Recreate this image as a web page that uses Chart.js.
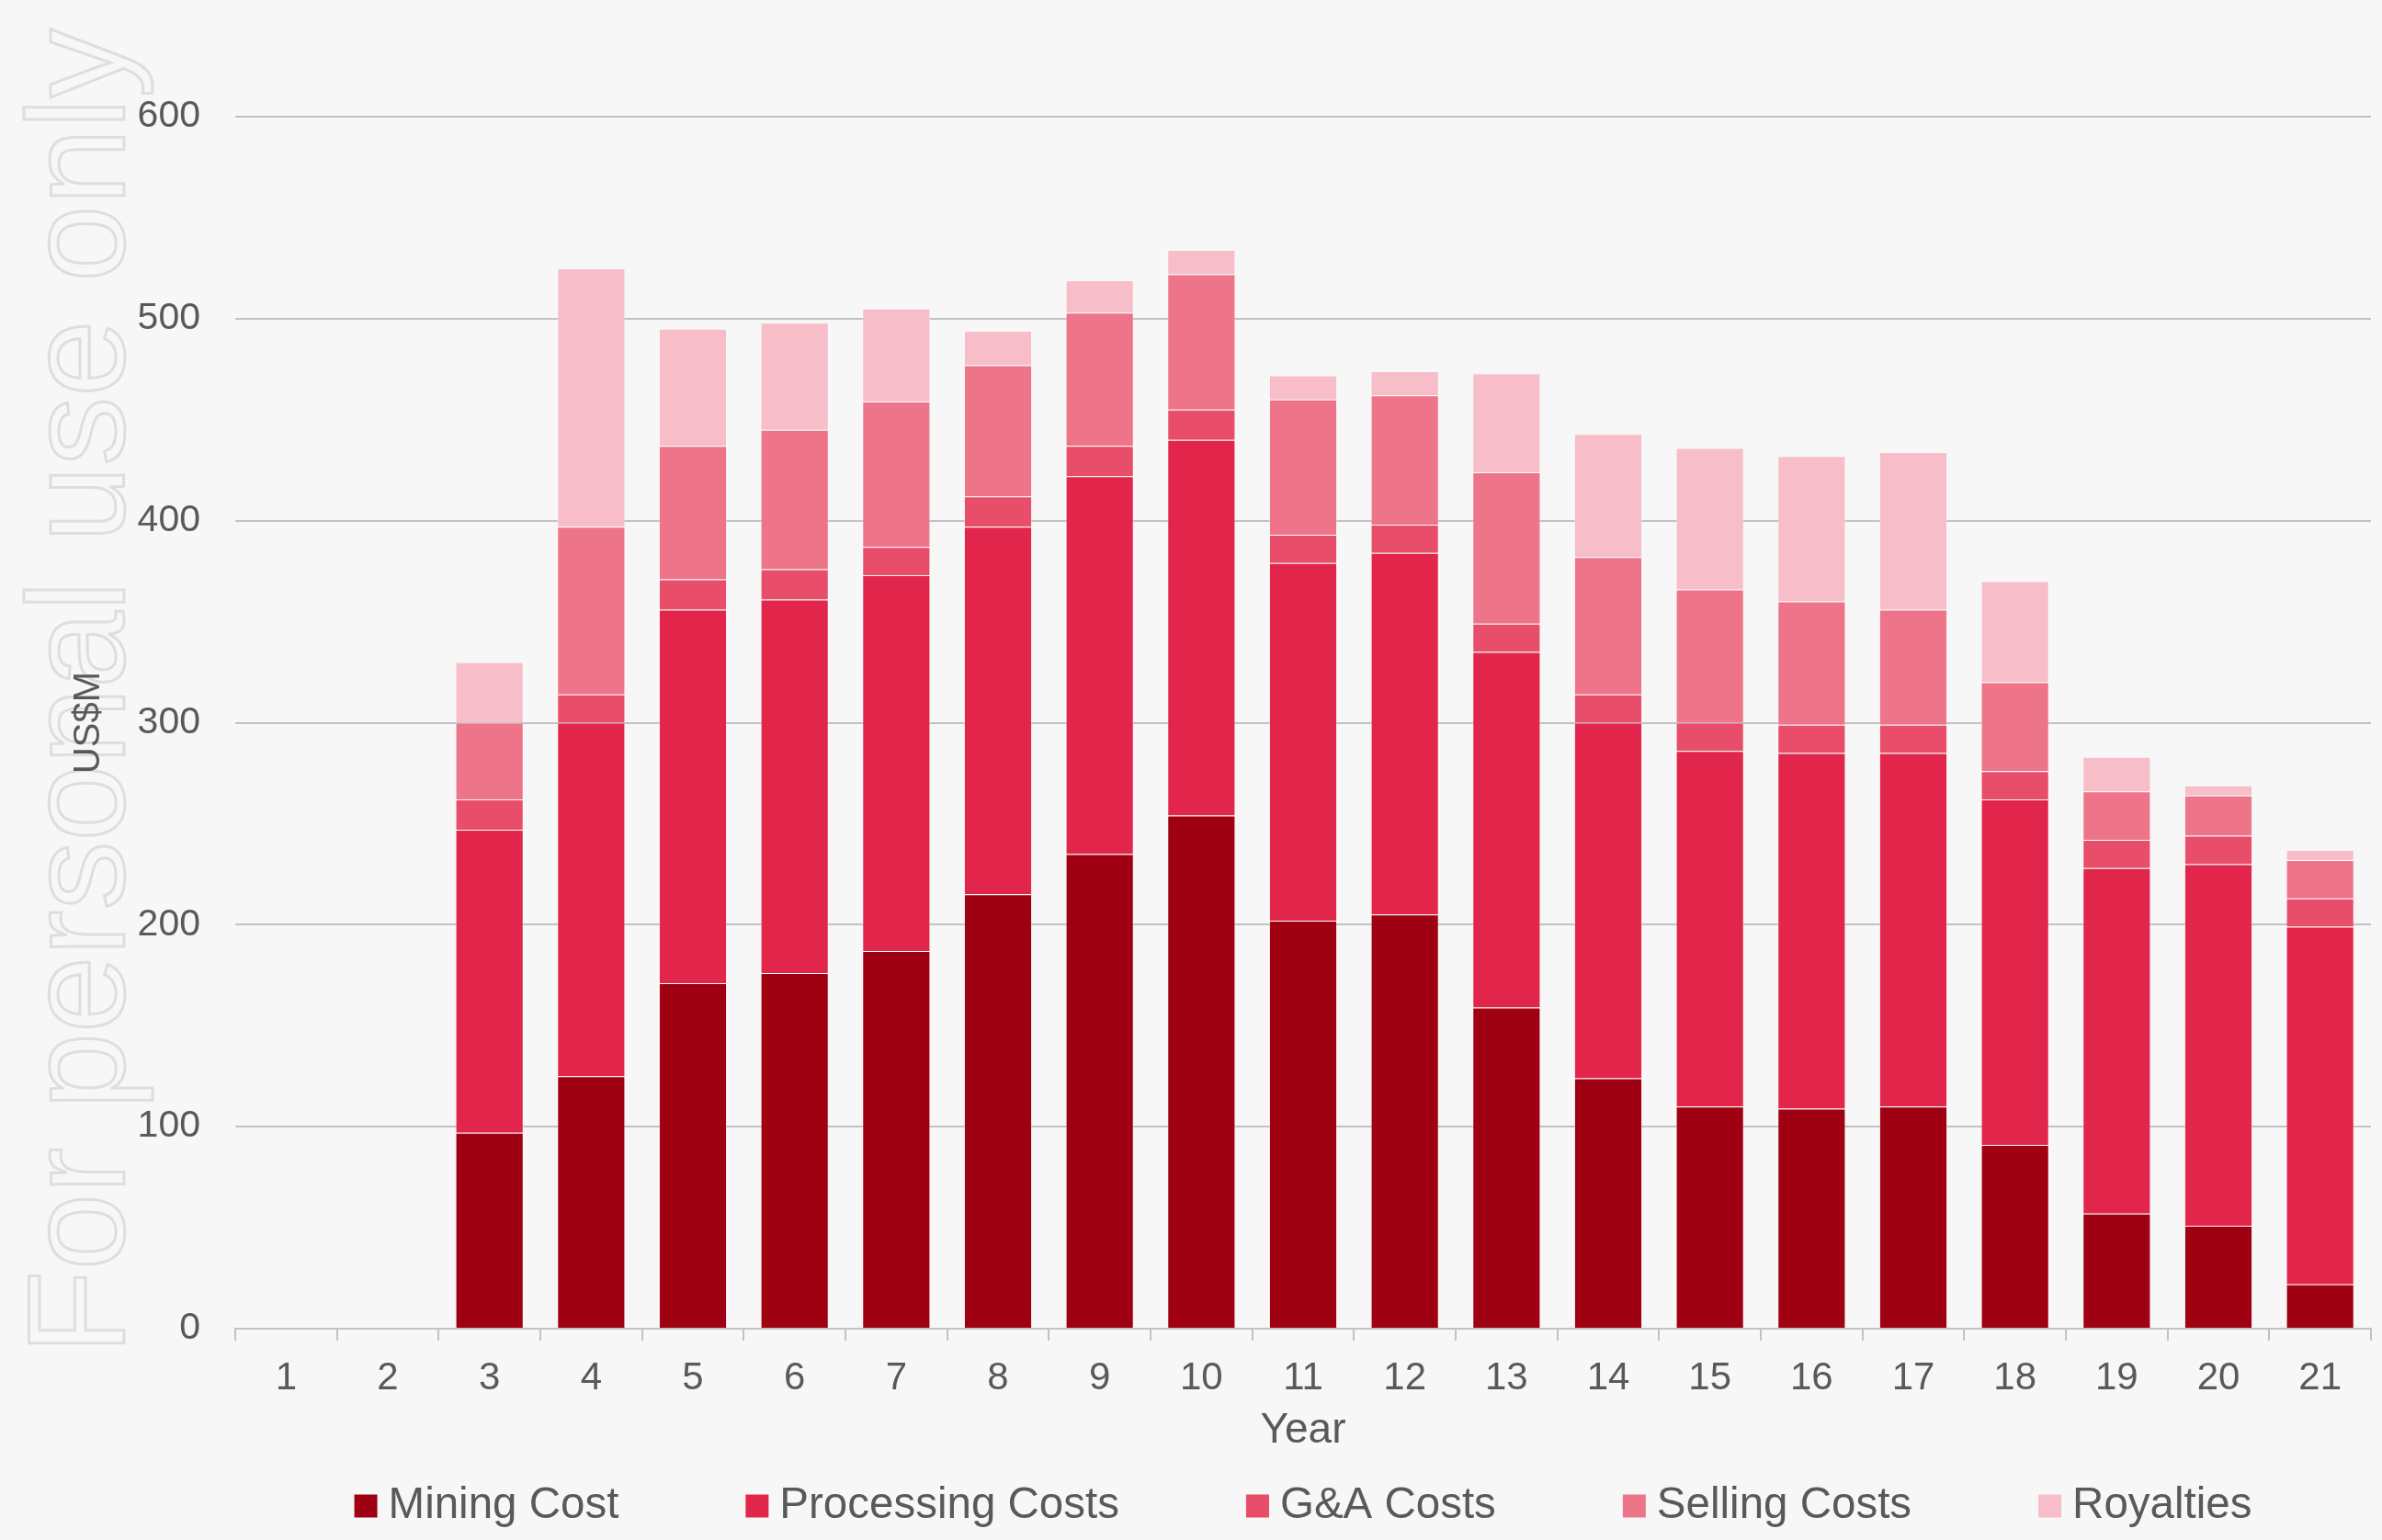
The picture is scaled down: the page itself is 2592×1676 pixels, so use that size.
<!DOCTYPE html>
<html>
<head>
<meta charset="utf-8">
<script src="https://cdn.jsdelivr.net/npm/chart.js@4.4.1/dist/chart.umd.min.js"></script>
<style>
  html, body { margin: 0; padding: 0; background: #f7f7f7; }
  canvas { display: block; }
</style>
</head>
<body>
<canvas id="myChart" width="2592" height="1676"></canvas>
<script>
const years = ['1', '2', '3', '4', '5', '6', '7', '8', '9', '10', '11', '12', '13', '14', '15', '16', '17', '18', '19', '20', '21'];
const miningCost = [0, 0, 97, 125, 171, 176, 187, 215, 235, 254, 202, 205, 159, 124, 110, 109, 110, 91, 57, 51, 22];
const processingCosts = [0, 0, 150, 175, 185, 185, 186, 182, 187, 186, 177, 179, 176, 176, 176, 176, 175, 171, 171, 179, 177];
const gaCosts = [0, 0, 15, 14, 15, 15, 14, 15, 15, 15, 14, 14, 14, 14, 14, 14, 14, 14, 14, 14, 14];
const sellingCosts = [0, 0, 38, 83, 66, 69, 72, 65, 66, 67, 67, 64, 75, 68, 66, 61, 57, 44, 24, 20, 19];
const royalties = [0, 0, 30, 128, 58, 53, 46, 17, 16, 12, 12, 12, 49, 61, 70, 72, 78, 50, 17, 5, 5];
const yTicks = [0, 100, 200, 300, 400, 500, 600];

const seriesNames = ['Mining Cost', 'Processing Costs', 'G&A Costs', 'Selling Costs', 'Royalties'];
const seriesColors = ['#9f0012', '#e2264b', '#e84d6a', '#ee748a', '#f7bec9'];
const seriesData = [miningCost, processingCosts, gaCosts, sellingCosts, royalties];

const textColor = '#595959';
const lineColor = '#c2c2c2';
const fontFamily = '"Liberation Sans", Arial, sans-serif';

let ctx = document.getElementById('myChart').getContext('2d');

// page background and the faint "For personal use only" stamp on the left
const backdrop = {
    id: 'backdrop',
    beforeDraw(chart) {
        const c = chart.ctx;
        c.save();
        c.fillStyle = '#f7f7f7';
        c.fillRect(0, 0, chart.width, chart.height);
        c.translate(135, 1474);
        c.rotate(-Math.PI / 2);
        c.font = '150px ' + fontFamily;
        c.textBaseline = 'alphabetic';
        c.strokeStyle = '#dedede';
        c.lineWidth = 3;
        c.strokeText('For personal use only', 0, 0);
        c.restore();
    }
};

// legend drawn by hand so it sits centred under the plot
const bottomLegend = {
    id: 'bottomLegend',
    afterDraw(chart) {
        const c = chart.ctx;
        c.save();
        c.font = '47.5px ' + fontFamily;
        c.textBaseline = 'middle';
        const box = 25, textGap = 12, itemGap = 138;
        const widths = chart.data.datasets.map(ds => box + textGap + c.measureText(ds.label).width);
        const total = widths.reduce((a, b) => a + b, 0) + itemGap * (widths.length - 1);
        const area = chart.chartArea;
        let x = (area.left + area.right) / 2 - total / 2;
        const y = 1639;
        chart.data.datasets.forEach((ds, i) => {
            c.fillStyle = ds.backgroundColor;
            c.fillRect(x, y - box / 2, box, box);
            c.fillStyle = textColor;
            c.fillText(ds.label, x + box + textGap, y);
            x += widths[i] + itemGap;
        });
        c.restore();
    }
};

const data = {
    labels: years,
    datasets: seriesData.map((values, i) => ({
        label: seriesNames[i],
        data: values,
        backgroundColor: seriesColors[i],
        borderColor: 'rgba(255,255,255,0.35)',
        borderWidth: (c) => (c.raw ? 1 : 0),
        barPercentage: 0.67,
        categoryPercentage: 1.0
    }))
};

const config = {
    type: 'bar',
    data: data,
    plugins: [backdrop, bottomLegend],
    options: {
        responsive: false,
        animation: false,
        devicePixelRatio: 1,
        layout: {
            padding: { left: 0, right: 12, top: 127, bottom: 80 }
        },
        plugins: {
            legend: { display: false },
            tooltip: { enabled: false }
        },
        scales: {
            x: {
                stacked: true,
                afterFit: (scale) => { scale.height = 150; },
                grid: {
                    display: true,
                    drawOnChartArea: false,
                    drawTicks: true,
                    tickLength: 13,
                    color: lineColor,
                    lineWidth: 2
                },
                border: { display: true, color: lineColor, width: 2 },
                ticks: {
                    color: textColor,
                    padding: 16,
                    font: { family: fontFamily, size: 42 }
                },
                title: {
                    display: true,
                    text: 'Year',
                    color: textColor,
                    font: { family: fontFamily, size: 46 },
                    padding: { top: 0, bottom: 11 }
                }
            },
            y: {
                stacked: true,
                min: 0,
                max: 600,
                afterFit: (scale) => { scale.width = 256; },
                afterBuildTicks: (scale) => {
                    scale.ticks = yTicks.map(v => ({ value: v }));
                },
                grid: {
                    drawTicks: false,
                    color: lineColor,
                    lineWidth: 2
                },
                border: { display: false },
                ticks: {
                    color: textColor,
                    padding: 38,
                    font: { family: fontFamily, size: 41 }
                },
                title: {
                    display: true,
                    text: 'US$M',
                    color: textColor,
                    font: { family: fontFamily, size: 40 },
                    padding: { top: 73, bottom: 0 }
                }
            }
        }
    }
};

let myChart = new Chart(ctx, config);
</script>
</body>
</html>
